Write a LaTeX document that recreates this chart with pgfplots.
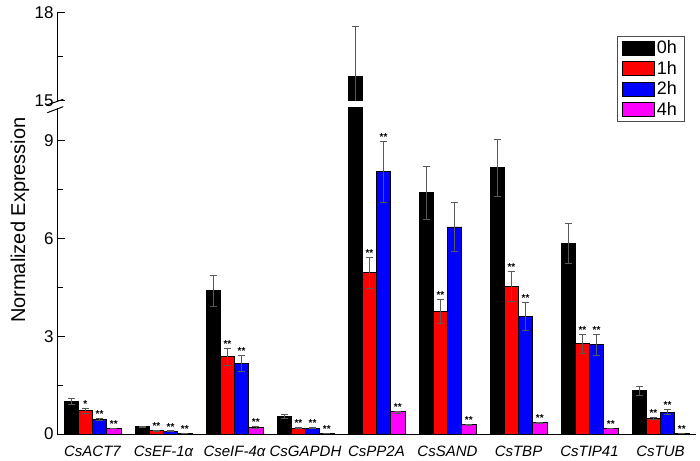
\documentclass[border=0pt]{standalone}
\usepackage{fontspec}
\setmainfont{Liberation Sans}
\usepackage{pgfplots}
\usepackage{pgfplotstable}
\pgfplotsset{compat=1.18}

\definecolor{c0}{RGB}{0,0,0}
\definecolor{c1}{RGB}{255,0,0}
\definecolor{c2}{RGB}{0,0,255}
\definecolor{c4}{RGB}{255,0,255}

% g = gene index; a/b/c/d = 0h/1h/2h/4h, e = error, s = significance
\pgfplotstableread{
g a ae b be bs c ce cs d de ds
0 1.00 0.09 0.71 0.07 *  0.45 0.03 ** 0.17 0.01 **
1 0.22 0.01 0.10 0.01 ** 0.09 0.01 ** 0.02 0.00 **
2 4.40 0.47 2.37 0.25 ** 2.17 0.25 ** 0.21 0.02 **
3 0.54 0.05 0.18 0.02 ** 0.18 0.02 ** 0.02 0.00 **
4 15.83 1.70 4.95 0.47 ** 8.05 0.94 ** 0.68 0.03 **
5 7.40 0.80 3.77 0.37 ** 6.35 0.75 {} 0.28 0.01 **
6 8.17 0.87 4.53 0.45 ** 3.61 0.43 ** 0.35 0.02 **
7 5.85 0.61 2.77 0.28 ** 2.74 0.33 ** 0.17 0.01 **
8 1.33 0.14 0.48 0.03 ** 0.67 0.08 ** 0.02 0.00 **
}\expr

\pgfplotsset{
  barst/.style={ybar, bar width=0.2, bar shift=0pt, draw=black, line width=0.8pt, fill=#1,
    legend image code/.code={\draw[##1,/tikz/.cd] (0pt,-7pt) rectangle (32pt,7pt);},
    /pgfplots/error bars/y dir=both, /pgfplots/error bars/y explicit,
    /pgfplots/error bars/error bar style={black!65, line width=0.6pt},
    /pgfplots/error bars/error mark options={rotate=90, black!65, mark size=3.5pt, line width=0.6pt}},
  stars/.style={draw=none, mark=none, forget plot, point meta=explicit symbolic,
    nodes near coords, nodes near coords style={font=\fontsize{10}{10}\selectfont\bfseries, anchor=south, inner sep=0.5pt}},
  base/.style={scale only axis, width=639pt, xmin=-0.5, xmax=8.5,
    axis line style={-, line width=1pt}, tick align=inside,
    major tick length=8pt, minor tick length=5.5pt, tick style={line width=1pt, black},
    yticklabel style={font=\fontsize{17}{17}\selectfont},
    /pgf/number format/assume math mode=true},
}

\begin{document}
\begin{tikzpicture}
\path[use as bounding box] (0pt,0pt) rectangle (700pt,460pt);

% lower part 0..10
\begin{axis}[base, at={(57pt,26pt)}, anchor=south west, height=326pt,
  ymin=0, ymax=10,
  axis x line*=bottom, axis y line*=left,
  xtick=\empty, minor xtick={0.5,1.5,...,8.5},
  extra x ticks={0,...,8},
  extra x tick labels={CsACT7, CsEF-1α, CseIF-4α, CsGAPDH, CsPP2A, CsSAND, CsTBP, CsTIP41, CsTUB},
  extra x tick style={tick style={draw=none}, major tick length=0pt,
    xticklabel style={font=\fontsize{15}{15}\selectfont\itshape, yshift=-8pt}},
  ytick={0,3,6,9}, minor ytick={1.5,4.5,7.5},
  ylabel={Normalized Expression},
  ylabel style={font=\fontsize{20}{20}\selectfont, at={(axis description cs:-0.058,0.656)}, anchor=center},
  legend style={at={(axis description cs:0.876,1.221)}, anchor=north west, draw=black!70,
    line width=0.6pt, font=\fontsize{18}{18}\selectfont, row sep=2pt, inner xsep=5pt, inner ysep=2.5pt,
    cells={anchor=west}},
]
\addplot[barst=c0] table[x expr=\thisrow{g}-0.3, y=a, y error=ae] {\expr};
\addlegendentry{0h}
\addplot[barst=c1] table[x expr=\thisrow{g}-0.1, y=b, y error=be] {\expr};
\addlegendentry{1h}
\addplot[barst=c2] table[x expr=\thisrow{g}+0.1, y=c, y error=ce] {\expr};
\addlegendentry{2h}
\addplot[barst=c4] table[x expr=\thisrow{g}+0.3, y=d, y error=de] {\expr};
\addlegendentry{4h}
\addplot[stars] table[x expr=\thisrow{g}-0.1, y expr=\thisrow{b}+\thisrow{be}, meta=bs] {\expr};
\addplot[stars] table[x expr=\thisrow{g}+0.1, y expr=\thisrow{c}+\thisrow{ce}, meta=cs] {\expr};
\addplot[stars] table[x expr=\thisrow{g}+0.3, y expr=\thisrow{d}+\thisrow{de}, meta=ds] {\expr};
\end{axis}

% upper part 15..18
\begin{axis}[base, at={(57pt,359pt)}, anchor=south west, height=88pt,
  ymin=15, ymax=18,
  axis x line=none, axis y line*=left, xtick=\empty,
  ytick={15,18}, minor ytick={16.5},
]
\addplot[barst=c0, restrict y to domain=14:20] table[x expr=\thisrow{g}-0.3, y=a, y error=ae] {\expr};
\end{axis}

% axis break marks
\draw[line width=1pt] (46.7pt,355pt) -- (63.3pt,360.7pt);
\draw[line width=1pt] (47.3pt,347.3pt) -- (63.3pt,353.3pt);
\end{tikzpicture}
\end{document}
